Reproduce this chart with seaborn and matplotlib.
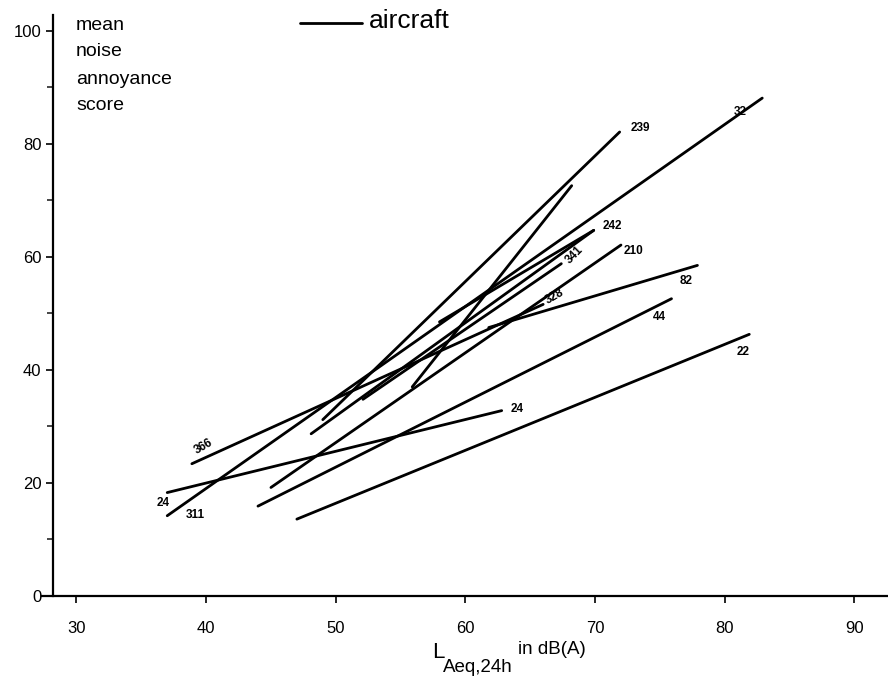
import matplotlib
matplotlib.use("Agg")
import matplotlib.pyplot as plt
import seaborn as sns
import pandas as pd

# study lines: start / end of each regression line (L_Aeq,24h in dB(A), mean annoyance score)
line_ids = ["24", "311-32", "366-328", "D-210", "44", "22", "G-242", "H-239", "I-341", "J", "K", "L-82"]
x_start = [37.0, 37.0, 38.9, 45.0, 44.0, 47.0, 48.1, 49.0, 52.1, 55.9, 58.0, 61.8]
y_start = [18.3, 14.2, 23.4, 19.2, 15.9, 13.6, 28.7, 31.2, 34.8, 37.0, 48.5, 47.5]
x_end = [62.8, 82.9, 66.0, 72.0, 75.9, 81.9, 69.9, 71.9, 67.4, 68.2, 69.9, 77.9]
y_end = [32.8, 88.1, 51.6, 62.1, 52.6, 46.3, 64.7, 82.1, 58.8, 72.6, 64.7, 58.5]

# study number labels
label_text = ["239", "32", "242", "210", "341", "328", "82", "44", "22", "24", "366", "24", "311"]
label_x = [73.5, 81.2, 71.3, 73.0, 68.4, 66.9, 77.0, 75.0, 81.4, 64.0, 39.8, 36.7, 39.2]
label_y = [82.8, 85.7, 65.5, 61.1, 60.4, 53.0, 55.8, 49.4, 43.2, 33.1, 26.4, 16.5, 14.3]
label_rot = [0, 0, 0, 0, 45, 30, 0, 0, 0, 0, 30, 0, 0]

x_ticks = [30, 40, 50, 60, 70, 80, 90]
y_ticks = [0, 20, 40, 60, 80, 100]

rows = []
for i, lid in enumerate(line_ids):
    rows.append({"line": lid, "x": x_start[i], "y": y_start[i]})
    rows.append({"line": lid, "x": x_end[i], "y": y_end[i]})
df = pd.DataFrame(rows)

sns.set_style("ticks")
plt.rcParams["font.family"] = ["Liberation Sans", "DejaVu Sans"]
plt.rcParams["text.color"] = "black"

fig = plt.figure(figsize=(8.88, 6.98), dpi=100)
ax = fig.add_axes([42 / 888, 102 / 698, 1 - 42 / 888, 581 / 698])

sns.lineplot(data=df, x="x", y="y", units="line", estimator=None, color="black",
             linewidth=2.0, ax=ax, legend=False, sort=False)

for t, x, y, r in zip(label_text, label_x, label_y, label_rot):
    ax.text(x, y, t, fontsize=8.5, fontweight="bold", rotation=r, ha="center", va="center",
            color="black")

ax.set_xlim(27.34, 92.6)
ax.set_ylim(0, 102.8)
ax.spines["left"].set_position(("data", 28.16))
ax.set_xticks(x_ticks)
ax.set_yticks(y_ticks)
ax.set_yticks([10, 30, 50, 70, 90], minor=True)
ax.tick_params(axis="both", which="major", direction="out", length=5, width=1.2,
               labelsize=12, colors="black")
ax.tick_params(axis="y", which="minor", direction="out", length=4, width=1.2)
ax.tick_params(axis="x", pad=13)
ax.tick_params(axis="y", pad=3)
for s in ["top", "right"]:
    ax.spines[s].set_visible(False)
for s in ["left", "bottom"]:
    ax.spines[s].set_linewidth(1.6)
    ax.spines[s].set_color("black")
ax.set_xlabel("")
ax.set_ylabel("")

# y-axis title block
for k, word in enumerate(["mean", "noise", "annoyance", "score"]):
    fig.text(76 / 888, 1 - (25 + k * 27) / 698, word, fontsize=14, ha="left", va="center")

# legend
fig.add_artist(plt.Line2D([300 / 888, 362 / 888], [1 - 23 / 698, 1 - 23 / 698],
                          color="black", linewidth=2.0))
fig.text(369 / 888, 1 - 21 / 698, "aircraft", fontsize=19, ha="left", va="center")

# x-axis title
fig.text(432 / 888, 1 - 653 / 698, "L", fontsize=16, ha="left", va="center")
fig.text(443 / 888, 1 - 668 / 698, "Aeq,24h", fontsize=13.5, ha="left", va="center")
fig.text(518 / 888, 1 - 650 / 698, "in dB(A)", fontsize=13.5, ha="left", va="center")

fig.savefig("out.png", dpi=100, facecolor="white")
